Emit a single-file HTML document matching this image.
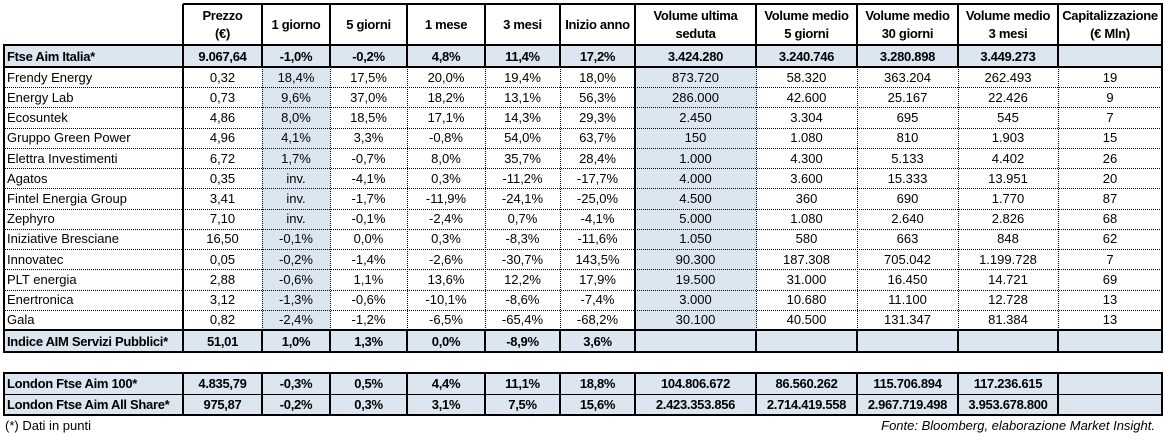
<!DOCTYPE html>
<html><head><meta charset="utf-8"><style>
html,body{margin:0;padding:0;background:#fff;}
body{width:1165px;height:437px;position:relative;overflow:hidden;font-family:"Liberation Sans",Arial,sans-serif;font-size:13px;color:#000;}
.c{position:absolute;display:flex;align-items:center;justify-content:center;text-align:center;white-space:nowrap;box-sizing:border-box;line-height:15px;}
.hd{line-height:18px;}
.l{justify-content:flex-start;padding-left:3px;}
.b{font-weight:bold;letter-spacing:-0.3px;}
.sh{background:#dce6f1;}
.ln{position:absolute;}
</style></head><body>
<script>
const colX=[4,183,262,330,407,485,560,635,756,857,958,1058,1162];
const headers=["","Prezzo<br>(€)","1 giorno","5 giorni","1 mese","3 mesi","Inizio anno","Volume ultima<br>seduta","Volume medio<br>5 giorni","Volume medio<br>30 giorni","Volume medio<br>3 mesi","Capitalizzazione<br>(€ Mln)"];
const ftseRow=["Ftse Aim Italia*","9.067,64","-1,0%","-0,2%","4,8%","11,4%","17,2%","3.424.280","3.240.746","3.280.898","3.449.273",""];
const stocks=[
["Frendy Energy","0,32","18,4%","17,5%","20,0%","19,4%","18,0%","873.720","58.320","363.204","262.493","19"],
["Energy Lab","0,73","9,6%","37,0%","18,2%","13,1%","56,3%","286.000","42.600","25.167","22.426","9"],
["Ecosuntek","4,86","8,0%","18,5%","17,1%","14,3%","29,3%","2.450","3.304","695","545","7"],
["Gruppo Green Power","4,96","4,1%","3,3%","-0,8%","54,0%","63,7%","150","1.080","810","1.903","15"],
["Elettra Investimenti","6,72","1,7%","-0,7%","8,0%","35,7%","28,4%","1.000","4.300","5.133","4.402","26"],
["Agatos","0,35","inv.","-4,1%","0,3%","-11,2%","-17,7%","4.000","3.600","15.333","13.951","20"],
["Fintel Energia Group","3,41","inv.","-1,7%","-11,9%","-24,1%","-25,0%","4.500","360","690","1.770","87"],
["Zephyro","7,10","inv.","-0,1%","-2,4%","0,7%","-4,1%","5.000","1.080","2.640","2.826","68"],
["Iniziative Bresciane","16,50","-0,1%","0,0%","0,3%","-8,3%","-11,6%","1.050","580","663","848","62"],
["Innovatec","0,05","-0,2%","-1,4%","-2,6%","-30,7%","143,5%","90.300","187.308","705.042","1.199.728","7"],
["PLT energia","2,88","-0,6%","1,1%","13,6%","12,2%","17,9%","19.500","31.000","16.450","14.721","69"],
["Enertronica","3,12","-1,3%","-0,6%","-10,1%","-8,6%","-7,4%","3.000","10.680","11.100","12.728","13"],
["Gala","0,82","-2,4%","-1,2%","-6,5%","-65,4%","-68,2%","30.100","40.500","131.347","81.384","13"]];
const indiceRow=["Indice AIM Servizi Pubblici*","51,01","1,0%","1,3%","0,0%","-8,9%","3,6%","","","","",""];
const londonRows=[
["London Ftse Aim 100*","4.835,79","-0,3%","0,5%","4,4%","11,1%","18,8%","104.806.672","86.560.262","115.706.894","117.236.615",""],
["London Ftse Aim All Share*","975,87","-0,2%","0,3%","3,1%","7,5%","15,6%","2.423.353.856","2.714.419.558","2.967.719.498","3.953.678.800",""]];

function cell(x,y,w,h,html,cls){
  const d=document.createElement('div');
  d.className='c '+cls;
  d.style.left=x+'px';d.style.top=y+'px';d.style.width=w+'px';d.style.height=h+'px';
  d.innerHTML=html;
  
  
  document.body.appendChild(d);
}
function row(vals,y,h,bold,shadeAll,shadeCols){
  for(let i=0;i<vals.length;i++){
    let cls=(i===0?'l ':'')+(bold?'b ':'');
    if(shadeAll||(shadeCols&&(i===2||i===7)))cls+='sh';
    cell(colX[i],y,colX[i+1]-colX[i],h,vals[i],cls);
  }
}
function hl(x1,x2,y,w,style){
  const d=document.createElement('div');d.className='ln';
  d.style.left=x1+'px';d.style.width=(x2-x1)+'px';d.style.top=(y-Math.floor(w/2))+'px';
  d.style.borderTop=w+'px '+style+' #000';
  
  
  document.body.appendChild(d);
}
function vl(x,y1,y2,w,style){
  const d=document.createElement('div');d.className='ln';
  d.style.top=y1+'px';d.style.height=(y2-y1)+'px';d.style.left=(x-Math.floor(w/2))+'px';
  d.style.borderLeft=w+'px '+style+' #000';
  
  
  document.body.appendChild(d);
}
for(let i=1;i<headers.length;i++)cell(colX[i],4,colX[i+1]-colX[i],41,headers[i],'b hd');
row(ftseRow,45,22,true,true,false);
const rh=(330-67)/stocks.length;
stocks.forEach((r,k)=>row(r,67+k*rh,rh,false,false,true));
row(indiceRow,330,22,true,true,false);
londonRows.forEach((r,k)=>row(r,373+k*21,21,true,true,false));
const R=colX[colX.length-1];
hl(183,R+1,4,2,'solid');
for(let i=1;i<colX.length;i++)vl(colX[i],4,45,2,'solid');
hl(colX[0]-1,R+1,45,2,'solid');
hl(colX[0]-1,R+1,67,2,'solid');
for(let i=0;i<colX.length;i++)vl(colX[i],45,67,2,'solid');
for(let k=1;k<stocks.length;k++)hl(colX[0],R,Math.round(67+k*rh),1,'dotted');
for(let i=0;i<colX.length;i++){
  const thick=(i===0||i===1||i===7||i===colX.length-1);
  vl(colX[i],67,330,thick?2:1,thick?'solid':'dotted');
}
hl(colX[0]-1,R+1,330,2,'solid');
for(let i=0;i<colX.length;i++)vl(colX[i],330,352,2,'solid');
hl(colX[0]-1,R+1,352,2,'solid');
hl(colX[0]-1,R+1,373,2,'solid');
hl(colX[0]-1,R+1,394,1,'solid');
hl(colX[0]-1,R+1,415,2,'solid');
for(let i=0;i<colX.length;i++)vl(colX[i],373,415,2,'solid');
</script>
<div style="position:absolute;left:5px;top:418px;font-size:13px;">(*) Dati in punti</div>
<div style="position:absolute;right:10px;top:418px;font-size:13px;font-style:italic;">Fonte: Bloomberg, elaborazione Market Insight.</div>
</body></html>
